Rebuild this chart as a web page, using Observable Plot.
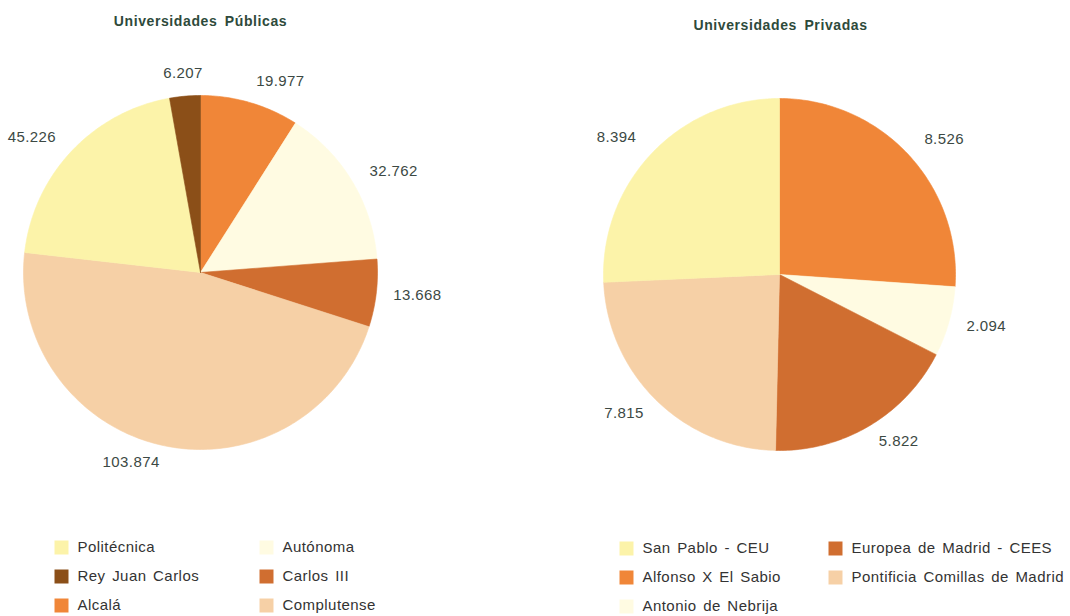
<!DOCTYPE html>
<html>
<head>
<meta charset="utf-8">
<script src="https://cdn.jsdelivr.net/npm/d3@7"></script>
<script src="https://cdn.jsdelivr.net/npm/@observablehq/plot@0.6"></script>
<style>
  html, body { margin: 0; padding: 0; background: #fff; }
  svg { display: block; }
</style>
</head>
<body>
<div id="chart"></div>
<script>
// ---- Data ----
const publicTitle = "Universidades Públicas";
const publicNames = ["Alcalá", "Autónoma", "Carlos III", "Complutense", "Politécnica", "Rey Juan Carlos"];
const publicValues = [19977, 32762, 13668, 103874, 45226, 6207];
const publicLegendOrder = ["Politécnica", "Rey Juan Carlos", "Alcalá", "Autónoma", "Carlos III", "Complutense"];

const privateTitle = "Universidades Privadas";
const privateNames = ["Alfonso X El Sabio", "Antonio de Nebrija", "Europea de Madrid - CEES", "Pontificia Comillas de Madrid", "San Pablo - CEU"];
const privateValues = [8526, 2094, 5822, 7815, 8394];
const privateLegendOrder = ["San Pablo - CEU", "Alfonso X El Sabio", "Antonio de Nebrija", "Europea de Madrid - CEES", "Pontificia Comillas de Madrid"];

const colorDomain = [
  "Politécnica", "Rey Juan Carlos", "Alcalá", "Autónoma", "Carlos III", "Complutense",
  "San Pablo - CEU", "Alfonso X El Sabio", "Antonio de Nebrija", "Europea de Madrid - CEES", "Pontificia Comillas de Madrid"
];
const colorRange = [
  "#fcf3a9", "#8b4f18", "#f08638", "#fffbe2", "#d06e30", "#f6d0a6",
  "#fcf3a9", "#f08638", "#fffbe2", "#d06e30", "#f6d0a6"
];

// ---- Layout ----
const W = 1070, H = 616;
const fmt = d3.formatLocale({decimal: ",", thousands: ".", grouping: [3], currency: ["", ""]}).format(",d");

function pie(names, values, cx, cy, r, lr) {
  const total = d3.sum(values);
  const poly = [], labels = [];
  let a0 = 0;
  names.forEach((n, i) => {
    const a1 = a0 + values[i] / total * 2 * Math.PI;
    poly.push({name: n, x: cx, y: cy});
    const steps = Math.max(2, Math.ceil((a1 - a0) / (Math.PI / 180)));
    for (let k = 0; k <= steps; k++) {
      const a = a0 + (a1 - a0) * k / steps;
      poly.push({name: n, x: cx + r * Math.sin(a), y: cy - r * Math.cos(a)});
    }
    poly.push({name: n, x: cx, y: cy});
    const am = (a0 + a1) / 2;
    const s = Math.sin(am), c = Math.cos(am);
    const rr = lr + (c > 0 ? 6 * c : 0);
    labels.push({
      text: fmt(values[i]),
      x: cx + rr * s,
      y: cy - rr * c,
      anchor: s > 0.12 ? "start" : s < -0.12 ? "end" : "middle"
    });
    a0 = a1;
  });
  return {poly, labels};
}

function legend(order, x0, colGap, y0, rowGap, perCol) {
  return order.map((n, i) => ({
    name: n,
    x: x0 + Math.floor(i / perCol) * colGap,
    y: y0 + (i % perCol) * rowGap
  }));
}

const pub = pie(publicNames, publicValues, 200, 272, 177, 194);
const priv = pie(privateNames, privateValues, 779, 274, 176, 194);
const allPoly = pub.poly.concat(priv.poly);
const allLabels = pub.labels.concat(priv.labels);
const legendItems = legend(publicLegendOrder, 61, 205, 547, 29, 3)
  .concat(legend(privateLegendOrder, 626, 209, 548, 29, 3));
const titles = [
  {x: 200, y: 21, text: publicTitle},
  {x: 780, y: 25, text: privateTitle}
];

const labelColor = "#3c4944";
const chart = Plot.plot({
  width: W,
  height: H,
  margin: 0,
  x: {domain: [0, W], range: [0, W], axis: null},
  y: {domain: [0, H], range: [0, H], axis: null},
  color: {type: "ordinal", domain: colorDomain, range: colorRange},
  style: {fontFamily: "Liberation Sans, Arial, sans-serif", background: "#fff"},
  marks: [
    Plot.line(allPoly, {x: "x", y: "y", z: "name", fill: "name", stroke: "name", strokeWidth: 0.6, curve: "linear"}),
    Plot.text(allLabels.filter(d => d.anchor === "start"), {x: "x", y: "y", text: "text", textAnchor: "start", fontSize: 15, fill: labelColor}),
    Plot.text(allLabels.filter(d => d.anchor === "end"), {x: "x", y: "y", text: "text", textAnchor: "end", fontSize: 15, fill: labelColor}),
    Plot.text(allLabels.filter(d => d.anchor === "middle"), {x: "x", y: "y", text: "text", textAnchor: "middle", fontSize: 15, fill: labelColor}),
    Plot.text(titles, {x: "x", y: "y", text: "text", fontSize: 14, fontWeight: "bold", fill: "#2e4a3b"}),
    Plot.dot(legendItems, {x: "x", y: "y", fill: "name", symbol: "square", r: 7.9, stroke: null}),
    Plot.text(legendItems, {x: d => d.x + 16, y: "y", text: "name", textAnchor: "start", fontSize: 15, fill: "#333"})
  ]
});

// typographic spacing to match the scanned original
const legendSet = new Set(colorDomain);
const titleSet = new Set([publicTitle, privateTitle]);
d3.select(chart).selectAll("text").each(function() {
  const t = this.textContent;
  if (legendSet.has(t)) {
    this.style.letterSpacing = "0.45px";
    this.style.wordSpacing = "2px";
  } else if (titleSet.has(t)) {
    this.style.letterSpacing = "0.6px";
    this.style.wordSpacing = "3px";
  } else {
    this.style.letterSpacing = "0.4px";
  }
});
document.getElementById("chart").appendChild(chart);
</script>
</body>
</html>
